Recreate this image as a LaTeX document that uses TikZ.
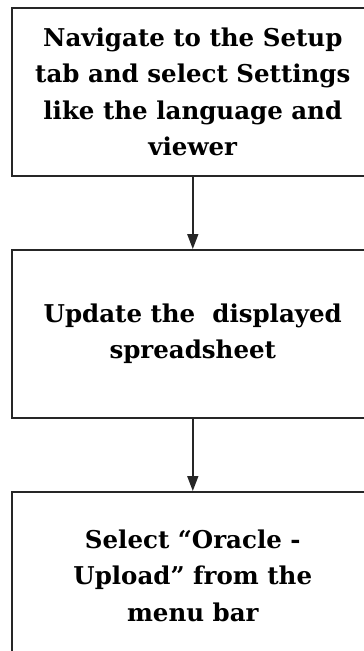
\documentclass[tikz,border=0pt]{standalone}
\usepackage{fontspec}
\setmainfont{DejaVu Serif}
\usetikzlibrary{arrows.meta}
\begin{document}
\begin{tikzpicture}[x=1pt,y=1pt,
  stepbox/.style={draw=black!85, line width=1.6pt, minimum width=362pt,
    minimum height=168pt, align=center, inner sep=0pt,
    font=\fontsize{24.5}{36.5}\selectfont\bfseries},
  flow/.style={draw=black!85, line width=1.6pt,
    -{Triangle[length=15pt,width=11pt]}}]
  \path[use as bounding box, clip] (0,0) rectangle (364,-651);
  \node[stepbox, anchor=north west] (setup) at (11,-7)
    {Navigate to the Setup\\tab and select Settings\\like the language and\\viewer};
  \node[stepbox, anchor=north west] (update) at (11,-249)
    {Update the~ displayed\\spreadsheet};
  \node[stepbox, anchor=north west] (upload) at (11,-491)
    {Select “Oracle -\\Upload” from the\\menu bar};
  \draw[flow] (setup.south) -- (update.north);
  \draw[flow] (update.south) -- (upload.north);
\end{tikzpicture}
\end{document}
